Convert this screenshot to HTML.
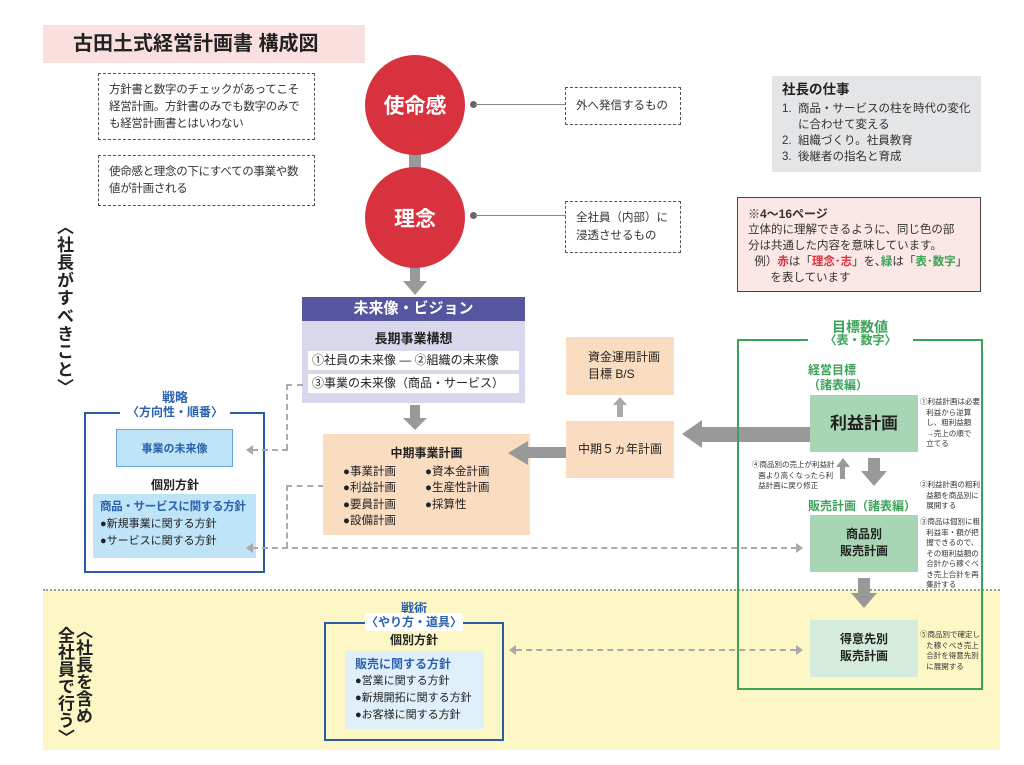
<!DOCTYPE html>
<html><head><meta charset="utf-8"><style>
*{margin:0;padding:0;box-sizing:border-box}
body{width:1024px;height:765px;background:#fff;position:relative;overflow:hidden;font-family:"Liberation Sans","Noto Sans CJK JP",sans-serif;color:#222}
.a{position:absolute}
.dash{border:1.5px dashed #555;font-size:11.5px;line-height:17px;color:#333;padding:8px 10px;white-space:nowrap}
.circ{background:#d8323f;border-radius:50%;color:#fff;font-weight:bold;font-size:21px;display:flex;align-items:center;justify-content:center}
.peach{background:#fadcc0}
.g{background:#a8d5b4}
.blue{color:#2a62ad;font-weight:bold}
.green{color:#3aa357;font-weight:bold}
.vt{writing-mode:vertical-rl;font-weight:bold;font-size:17px;white-space:nowrap}
.note{font-size:7.5px;line-height:10.5px;color:#333;white-space:nowrap}
</style></head><body>
<div class="a" style="left:43px;top:25px;width:322px;height:38px;background:#f9e0de;font-weight:bold;font-size:20px;line-height:38px;padding-left:30px">古田土式経営計画書 構成図</div>

<div class="a dash" style="left:98px;top:73px;width:217px;height:67px;letter-spacing:-0.3px">方針書と数字のチェックがあってこそ<br>経営計画。方針書のみでも数字のみで<br>も経営計画書とはいわない</div>
<div class="a dash" style="left:98px;top:155px;width:217px;height:51px;letter-spacing:-0.3px">使命感と理念の下にすべての事業や数<br>値が計画される</div>

<div class="a" style="left:409px;top:150px;width:12px;height:22px;background:#999"></div>
<div class="a" style="left:410px;top:262px;width:10px;height:20px;background:#999"></div>
<div class="a" style="left:403px;top:281px;width:0;height:0;border-left:12px solid transparent;border-right:12px solid transparent;border-top:14px solid #999"></div>
<div class="a circ" style="left:365px;top:55px;width:100px;height:100px">使命感</div>
<div class="a circ" style="left:365px;top:167px;width:100px;height:101px">理念</div>
<div class="a" style="left:470px;top:101px;width:7px;height:7px;border-radius:50%;background:#666"></div>
<div class="a" style="left:475px;top:104px;width:91px;height:1px;background:#888"></div>
<div class="a" style="left:470px;top:212px;width:7px;height:7px;border-radius:50%;background:#666"></div>
<div class="a" style="left:475px;top:215px;width:91px;height:1px;background:#888"></div>
<div class="a dash" style="left:565px;top:87px;width:116px;height:38px;line-height:18px;padding:9px 10px">外へ発信するもの</div>
<div class="a dash" style="left:565px;top:201px;width:116px;height:52px;line-height:18px;padding:7px 10px">全社員（内部）に<br>浸透させるもの</div>

<div class="a" style="left:772px;top:76px;width:209px;height:96px;background:#e4e5e7;padding:6px 10px;font-size:11.5px;line-height:16px;color:#333;white-space:nowrap">
<div style="font-weight:bold;font-size:13.5px;margin-bottom:3px;color:#222">社長の仕事</div>
<div>1.&nbsp; 商品・サービスの柱を時代の変化<br>&nbsp;&nbsp;&nbsp;&nbsp; に合わせて変える</div><div>2.&nbsp; 組織づくり。社員教育</div><div>3.&nbsp; 後継者の指名と育成</div></div>

<div class="a" style="left:737px;top:197px;width:244px;height:95px;background:#fbe7e5;border:1.5px solid #444;padding:8px 10px;font-size:11.5px;line-height:16px;color:#333;white-space:nowrap">
<div style="font-weight:bold;font-size:12px">※4～16ページ</div>立体的に理解できるように、同じ色の部<br>分は共通した内容を意味しています。<br>&nbsp;&nbsp;例）<b style="color:#d8323f">赤</b>は「<b style="color:#d8323f">理念･志</b>」を､<b style="color:#3aa357">緑</b>は「<b style="color:#3aa357">表･数字</b>」<br>&nbsp;&nbsp;&nbsp;&nbsp;&nbsp;&nbsp;&nbsp;を表しています</div>

<div class="a vt" style="left:51px;top:218px;height:165px;letter-spacing:0.8px">〈社長がすべきこと〉</div>

<!-- vision -->
<div class="a" style="left:302px;top:297px;width:223px;height:106px;background:#d8d8ec"></div>
<div class="a" style="left:302px;top:297px;width:223px;height:24px;background:#56559f;color:#fff;font-weight:bold;font-size:15px;line-height:24px;text-align:center">未来像・ビジョン</div>
<div class="a" style="left:302px;top:328px;width:223px;text-align:center;font-weight:bold;font-size:13px">長期事業構想</div>
<div class="a" style="left:308px;top:351px;width:211px;height:19px;background:#fff;font-size:12px;line-height:19px;padding-left:4px">①社員の未来像 — ②組織の未来像</div>
<div class="a" style="left:308px;top:374px;width:211px;height:19px;background:#fff;font-size:12px;line-height:19px;padding-left:4px">③事業の未来像（商品・サービス）</div>
<div class="a" style="left:410px;top:405px;width:10px;height:14px;background:#999"></div>
<div class="a" style="left:403px;top:418px;border-left:12px solid transparent;border-right:12px solid transparent;border-top:12px solid #999"></div>

<!-- 戦略 -->
<div class="a blue" style="left:85px;top:387px;width:180px;text-align:center;font-size:13px">戦略</div>
<div class="a" style="left:84px;top:412px;width:181px;height:161px;border:2px solid #2a5aa8"></div>
<div class="a blue" style="left:120px;top:403px;width:110px;text-align:center;font-size:12px;background:#fff;line-height:18px">〈方向性・順番〉</div>
<div class="a blue" style="left:116px;top:429px;width:117px;height:38px;background:#bfe3f7;border:1px solid #6aa6d6;font-size:11px;line-height:38px;text-align:center">事業の未来像</div>
<div class="a" style="left:85px;top:476px;width:180px;text-align:center;font-weight:bold;font-size:12px">個別方針</div>
<div class="a" style="left:93px;top:494px;width:163px;height:64px;background:#bfe3f7;padding:5px 0 0 7px;font-size:11px;line-height:17px;white-space:nowrap">
<div class="blue" style="font-size:11.5px;letter-spacing:-0.3px">商品・サービスに関する方針</div>●新規事業に関する方針<br>●サービスに関する方針</div>

<!-- dashed connectors -->
<div class="a" style="left:286px;top:384px;width:17px;border-top:2px dashed #aaa"></div>
<div class="a" style="left:286px;top:384px;height:66px;border-left:2px dashed #aaa"></div>
<div class="a" style="left:252px;top:449px;width:36px;border-top:2px dashed #aaa"></div>
<div class="a" style="left:246px;top:445px;border-top:5px solid transparent;border-bottom:5px solid transparent;border-right:7px solid #aaa"></div>
<div class="a" style="left:286px;top:485px;width:38px;border-top:2px dashed #aaa"></div>
<div class="a" style="left:286px;top:485px;height:63px;border-left:2px dashed #aaa"></div>
<div class="a" style="left:252px;top:547px;width:545px;border-top:2px dashed #aaa"></div>
<div class="a" style="left:246px;top:543px;border-top:5px solid transparent;border-bottom:5px solid transparent;border-right:7px solid #aaa"></div>
<div class="a" style="left:796px;top:543px;border-top:5px solid transparent;border-bottom:5px solid transparent;border-left:7px solid #aaa"></div>

<!-- 中期 -->
<div class="a peach" style="left:323px;top:434px;width:207px;height:101px;padding:11px 0 0 20px;font-size:11.5px;line-height:16.5px;white-space:nowrap">
<div style="font-weight:bold;font-size:12px;text-align:center;margin-right:20px;margin-bottom:2px">中期事業計画</div>
<div style="display:flex"><div style="width:82px">●事業計画<br>●利益計画<br>●要員計画<br>●設備計画</div><div>●資本金計画<br>●生産性計画<br>●採算性</div></div></div>
<div class="a" style="left:525px;top:447px;width:41px;height:11px;background:#999"></div>
<div class="a" style="left:508px;top:441px;border-top:12px solid transparent;border-bottom:12px solid transparent;border-right:20px solid #999"></div>

<div class="a peach" style="left:566px;top:337px;width:108px;height:58px;padding:12px 0 0 22px;font-size:12px;line-height:17px">資金運用計画<br>目標 B/S</div>
<div class="a" style="left:617px;top:403px;width:6px;height:14px;background:#aaa"></div>
<div class="a" style="left:613px;top:397px;border-left:7px solid transparent;border-right:7px solid transparent;border-bottom:8px solid #aaa"></div>
<div class="a peach" style="left:566px;top:421px;width:108px;height:57px;font-size:12px;line-height:57px;text-align:center">中期５ヵ年計画</div>
<div class="a" style="left:700px;top:427px;width:110px;height:15px;background:#999"></div>
<div class="a" style="left:682px;top:420px;border-top:14px solid transparent;border-bottom:14px solid transparent;border-right:20px solid #999"></div>

<!-- yellow band -->
<div class="a" style="left:43px;top:590px;width:957px;height:160px;background:#fdf7c6"></div>
<div class="a" style="left:43px;top:589px;width:957px;border-top:2px dotted #999"></div>

<!-- green -->
<div class="a green" style="left:737px;top:317px;width:246px;text-align:center;font-size:14px">目標数値</div>
<div class="a" style="left:737px;top:339px;width:246px;height:351px;border:2.5px solid #3aa357"></div>
<div class="a green" style="left:808px;top:333px;width:105px;text-align:center;font-size:12px;background:#fff;line-height:15px">〈表・数字〉</div>
<div class="a green" style="left:808px;top:363px;font-size:12px;line-height:15px">経営目標<br>（諸表編）</div>
<div class="a g" style="left:810px;top:395px;width:108px;height:57px;font-weight:bold;font-size:17px;line-height:57px;text-align:center">利益計画</div>
<div class="a note" style="left:920px;top:397px">①利益計画は必要<br>&nbsp;&nbsp;&nbsp;利益から逆算<br>&nbsp;&nbsp;&nbsp;し、粗利益額<br>&nbsp;&nbsp;&nbsp;→売上の順で<br>&nbsp;&nbsp;&nbsp;立てる</div>
<div class="a note" style="left:752px;top:460px">④商品別の売上が利益計<br>&nbsp;&nbsp;&nbsp;画より高くなったら利<br>&nbsp;&nbsp;&nbsp;益計画に戻り修正</div>
<div class="a" style="left:840px;top:465px;width:5px;height:14px;background:#999"></div>
<div class="a" style="left:836px;top:458px;border-left:7px solid transparent;border-right:7px solid transparent;border-bottom:9px solid #999"></div>
<div class="a" style="left:868px;top:458px;width:12px;height:14px;background:#999"></div>
<div class="a" style="left:861px;top:471px;border-left:13px solid transparent;border-right:13px solid transparent;border-top:15px solid #999"></div>
<div class="a note" style="left:920px;top:480px">②利益計画の粗利<br>&nbsp;&nbsp;&nbsp;益額を商品別に<br>&nbsp;&nbsp;&nbsp;展開する</div>
<div class="a green" style="left:808px;top:497px;font-size:12px">販売計画（諸表編）</div>
<div class="a g" style="left:810px;top:515px;width:108px;height:57px;font-weight:bold;font-size:12px;line-height:17px;text-align:center;padding-top:11px">商品別<br>販売計画</div>
<div class="a note" style="left:920px;top:517px">③商品は個別に粗<br>&nbsp;&nbsp;&nbsp;利益率・額が把<br>&nbsp;&nbsp;&nbsp;握できるので、<br>&nbsp;&nbsp;&nbsp;その粗利益額の<br>&nbsp;&nbsp;&nbsp;合計から稼ぐべ<br>&nbsp;&nbsp;&nbsp;き売上合計を再<br>&nbsp;&nbsp;&nbsp;集計する</div>
<div class="a" style="left:858px;top:578px;width:12px;height:16px;background:#999"></div>
<div class="a" style="left:851px;top:593px;border-left:13px solid transparent;border-right:13px solid transparent;border-top:15px solid #999"></div>
<div class="a" style="left:810px;top:620px;width:108px;height:57px;background:#d5ecdd;font-weight:bold;font-size:12px;line-height:17px;text-align:center;padding-top:11px">得意先別<br>販売計画</div>
<div class="a note" style="left:920px;top:630px">⑤商品別で確定し<br>&nbsp;&nbsp;&nbsp;た稼ぐべき売上<br>&nbsp;&nbsp;&nbsp;合計を得意先別<br>&nbsp;&nbsp;&nbsp;に展開する</div>

<!-- 戦術 -->
<div class="a vt" style="left:55px;top:622px;height:125px;line-height:18px">〈社長を含め<br>&nbsp;全社員で行う〉</div>
<div class="a blue" style="left:325px;top:598px;width:178px;text-align:center;font-size:13px">戦術</div>
<div class="a" style="left:324px;top:622px;width:180px;height:119px;border:2px solid #2a5aa8"></div>
<div class="a blue" style="left:365px;top:613px;width:98px;text-align:center;font-size:12px;background:#fff;line-height:18px">〈やり方・道具〉</div>
<div class="a" style="left:325px;top:631px;width:178px;text-align:center;font-weight:bold;font-size:12px">個別方針</div>
<div class="a" style="left:345px;top:651px;width:139px;height:78px;background:#e0f0fa;padding:5px 0 0 10px;font-size:11px;line-height:17px;white-space:nowrap">
<div class="blue" style="font-size:12px">販売に関する方針</div>●営業に関する方針<br>●新規開拓に関する方針<br>●お客様に関する方針</div>
<div class="a" style="left:516px;top:649px;width:280px;border-top:2px dashed #aaa"></div>
<div class="a" style="left:509px;top:645px;border-top:5px solid transparent;border-bottom:5px solid transparent;border-right:7px solid #aaa"></div>
<div class="a" style="left:796px;top:645px;border-top:5px solid transparent;border-bottom:5px solid transparent;border-left:7px solid #aaa"></div>
</body></html>
